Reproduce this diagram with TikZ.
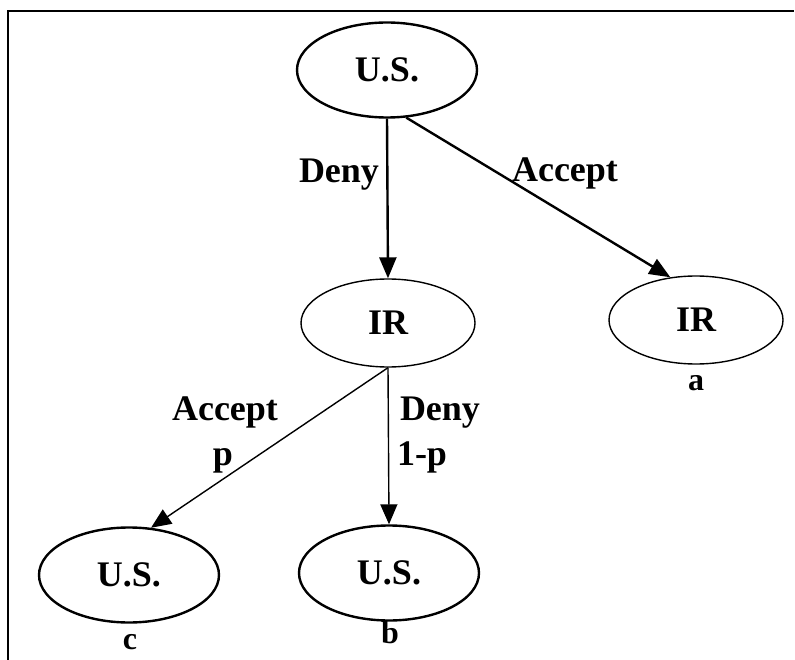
\documentclass[tikz,border=0pt]{standalone}
\usepackage{fontspec}
\setmainfont{Liberation Serif}
\usetikzlibrary{shapes.geometric,arrows.meta}
\begin{document}
\begin{tikzpicture}[x=1pt, y=-1pt, every node/.style={font=\fontsize{36}{40}\selectfont\bfseries},
  usnode/.style={draw, ellipse, line width=2.4pt, inner sep=0pt, minimum width=180pt, minimum height=95pt},
  irnode/.style={draw, ellipse, line width=1.4pt, inner sep=0pt, minimum width=174pt, minimum height=88pt},
  edgelbl/.style={anchor=base, inner sep=0pt},
  leaflbl/.style={anchor=base, inner sep=0pt, font=\fontsize{32}{36}\selectfont\bfseries},
  bigarr/.style={line width=2.4pt, -{Triangle[length=21pt,width=17pt]}},
  smallarr/.style={line width=1.4pt, -{Triangle[length=20pt,width=17pt]}}]
\useasboundingbox (0,0) rectangle (795,660);
\draw [line width=2.4pt] (8,660) -- (8,11) -- (794,11);
% nodes
\node [usnode] (us0) at (387,70) {U.S.};
\node [irnode] (ir0) at (388,323) {IR};
\node [irnode] (ir1) at (696,320) {IR};
\node [usnode] (us1) at (129,575) {U.S.};
\node [usnode] (us2) at (389,573) {U.S.};
% payoffs
\node [leaflbl] (pa) at (696,390) {a};
\node [leaflbl] (pb) at (390,643) {b};
\node [leaflbl] (pc) at (130,649) {c};
% moves
\draw [bigarr] (us0.south) -- (ir0.north);
\draw [bigarr] (us0.-68) -- (ir1.121);
\draw [smallarr] (ir0.south) -- (us1.65);
\draw [smallarr] (ir0.south) -- (us2.north);
\node [edgelbl] (l0) at (339,183) {Deny};
\node [edgelbl] (l1) at (565,182) {Accept};
\node [edgelbl] (l2) at (225,420) {Accept};
\node [edgelbl] (l3) at (223,465) {p};
\node [edgelbl] (l4) at (440,420) {Deny};
\node [edgelbl] (l5) at (422,465) {1-p};
\end{tikzpicture}
\end{document}
